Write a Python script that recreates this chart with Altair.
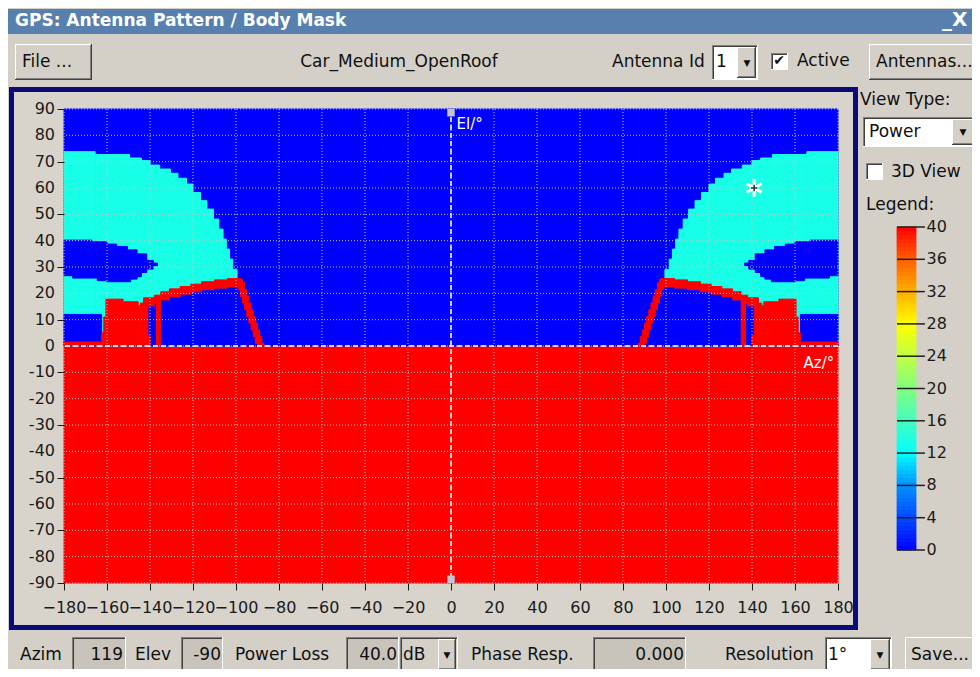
import altair as alt
import pandas as pd

# ---------------- values ----------------
AZ_TICKS = list(range(-180, 181, 20))
EL_TICKS = list(range(-90, 91, 10))
LEGEND_TICKS = [0, 4, 8, 12, 16, 20, 24, 28, 32, 36, 40]
LEGEND_COLORS = ["#0000ff", "#0048ff", "#0090ff", "#00ffff", "#40ffc0", "#80ff80",
                 "#c0ff40", "#ffff00", "#ffb000", "#ff6000", "#ff0000"]

LOSS_BLUE = 0.0     # free sky
LOSS_CYAN = 13.5    # partial shadowing
LOSS_RED = 40.0     # body mask

# left half of the mask (az < 0); the right half is its mirror image
cyan_edges = [-180, -165.5, -149.5, -144, -140, -135.5, -130.5, -127, -123, -120,
              -116.5, -113.5, -110.5, -108, -106, -104.5, -103, -101.5, -99.5]
cyan_top = [73.8, 72.7, 71.4, 70.4, 68.7, 67.2, 65.6, 63.7, 61.5, 58.3,
            55.2, 52.0, 48.2, 44.4, 40.6, 36.8, 33.0, 29.0]

hole_edges = [-180, -176, -167, -164.5, -160, -155.5, -150.5, -149, -146, -144,
              -141.5, -138.5, -136.5]
hole_low = [26.7, 25.8, 25.8, 24.8, 24.4, 24.4, 24.4, 25.4, 26.3, 27.9, 29.2, 30.5]
hole_high = [40.2, 40.2, 39.6, 39.6, 38.7, 37.8, 36.5, 36.5, 35.0, 35.0, 32.5, 31.5]

band_edges = [-180, -162.5]
band_low = [0.0]
band_high = [12.0]

arc_edges = [-143, -138, -135, -131, -126, -121, -116, -110, -104, -98]
arc_low = [15.2, 16.2, 17.5, 18.7, 19.7, 20.6, 21.4, 22.0, 22.4]
arc_high = [18.3, 19.3, 20.6, 21.7, 22.6, 23.5, 24.4, 25.1, 25.6]

block_edges = [-180, -162.5, -161.5, -160.5, -152.5, -145.5, -144.5, -141, -140]
block_top = [1.5, 5.0, 11.0, 17.8, 16.8, 15.3, 16.3, 4.0]

post_edges = [-137, -135]
post_top = [17.0]

slant_edges = [-99, -98, -97, -96, -95, -94, -93, -92, -91, -90, -89, -88, -87]
slant_low = [21.4, 18.9, 16.3, 13.8, 11.2, 8.7, 6.1, 3.6, 1.0, 0.0, 0.0, 0.0]
slant_high = [25.6, 25.4, 24.0, 21.4, 18.9, 16.3, 13.8, 11.2, 8.7, 6.1, 3.6, 1.0]

marker_az = [141]
marker_el = [60]
handle_az = [0, 0]
handle_el = [88.6, -88.6]

# ---------------- build the rect table ----------------
rows = []


def add(edges, lows, highs, loss, mirror=True):
    for i in range(len(edges) - 1):
        rows.append(dict(az0=edges[i], az1=edges[i + 1], el0=lows[i], el1=highs[i], loss=loss))
        if mirror:
            rows.append(dict(az0=-edges[i + 1], az1=-edges[i], el0=lows[i], el1=highs[i], loss=loss))


add([-180, 180], [-90], [0], LOSS_RED, mirror=False)
add([-180, 180], [0], [90], LOSS_BLUE, mirror=False)
add(cyan_edges, [0.0] * len(cyan_top), cyan_top, LOSS_CYAN)
add(hole_edges, hole_low, hole_high, LOSS_BLUE)
add(band_edges, band_low, band_high, LOSS_BLUE)
add(arc_edges, [0.0] * len(arc_low), arc_low, LOSS_BLUE)
add(block_edges, [0.0] * len(block_top), block_top, LOSS_RED)
add(arc_edges, arc_low, arc_high, LOSS_RED)
add(post_edges, [0.0], post_top, LOSS_RED)
add(slant_edges, slant_low, slant_high, LOSS_RED)
heat_df = pd.DataFrame(rows)

FONT = "DejaVu Sans"
W, H = 774, 474
OX, OY = 64, 109  # page position of the plot's top-left corner

x_scale = alt.Scale(domain=[-180, 180], nice=False, zero=False)
y_scale = alt.Scale(domain=[-90, 90], nice=False, zero=False)
color_scale = alt.Scale(domain=LEGEND_TICKS, range=LEGEND_COLORS, interpolate="rgb")
# identity pixel scales for the window chrome (page pixels)
px_x = alt.Scale(domain=[0, 1000], range=[-OX, 1000 - OX], nice=False, zero=False)
px_y = alt.Scale(domain=[0, 1000], range=[-OY, 1000 - OY], nice=False, zero=False)

axis_common = dict(labelFont=FONT, labelFontSize=16, labelColor="#1a1a1a", tickColor="#1a1a1a",
                   tickSize=7, domain=False, grid=False, labelOverlap=False, labelFlush=False,
                   titleFont=FONT, titleFontSize=15, titleFontWeight="normal", titleColor="white",
                   titleAngle=0, titleAlign="left", titleBaseline="middle", zindex=1)

heat = alt.Chart(heat_df).mark_rect(strokeWidth=1).encode(
    x=alt.X("az0:Q", scale=x_scale,
            axis=alt.Axis(values=AZ_TICKS, title="Az/°", titleX=739, titleY=253 - H,
                          labelPadding=9, **axis_common)),
    x2="az1:Q",
    y=alt.Y("el0:Q", scale=y_scale,
            axis=alt.Axis(values=EL_TICKS, title="El/°", titleX=392, titleY=14,
                          labels=False, **axis_common)),
    y2="el1:Q",
    color=alt.Color("loss:Q", scale=color_scale, legend=None),
    stroke=alt.Stroke("loss:Q", scale=color_scale, legend=None),
)

# elevation tick labels, drawn as text at the left edge of the plot
el_lab_df = pd.DataFrame({"el": EL_TICKS, "az": [-180] * len(EL_TICKS),
                          "lab": [str(v) for v in EL_TICKS]})
el_labels = alt.Chart(el_lab_df).mark_text(
    align="right", baseline="middle", dx=-9, font=FONT, fontSize=16, color="#1a1a1a").encode(
    x=alt.X("az:Q", scale=x_scale), y=alt.Y("el:Q", scale=y_scale), text="lab:N")

grid_v = alt.Chart(pd.DataFrame({"az": AZ_TICKS})).mark_rule(
    color="#c4c4c8", strokeWidth=1, strokeDash=[1, 2]).encode(x=alt.X("az:Q", scale=x_scale))
grid_h = alt.Chart(pd.DataFrame({"el": EL_TICKS})).mark_rule(
    color="#c4c4c8", strokeWidth=1, strokeDash=[1, 2]).encode(y=alt.Y("el:Q", scale=y_scale))
zero_h = alt.Chart(pd.DataFrame({"el": [0]})).mark_rule(
    color="white", strokeWidth=1.5, strokeDash=[5, 3]).encode(y=alt.Y("el:Q", scale=y_scale))
zero_v = alt.Chart(pd.DataFrame({"az": [0]})).mark_rule(
    color="white", strokeWidth=1.5, strokeDash=[5, 3]).encode(x=alt.X("az:Q", scale=x_scale))
handles = alt.Chart(pd.DataFrame({"az": handle_az, "el": handle_el})).mark_square(
    size=56, color="#c4c4d0", opacity=1).encode(
    x=alt.X("az:Q", scale=x_scale), y=alt.Y("el:Q", scale=y_scale))
marker_df = pd.DataFrame({"az": marker_az, "el": marker_el})
star = alt.Chart(marker_df).mark_point(
    shape="M0,-1L0,1M-0.87,-0.5L0.87,0.5M-0.87,0.5L0.87,-0.5", size=300, filled=False,
    stroke="white", strokeWidth=3, opacity=1).encode(
    x=alt.X("az:Q", scale=x_scale), y=alt.Y("el:Q", scale=y_scale))
star_c = alt.Chart(marker_df).mark_point(
    shape="M-1,0L1,0M0,-1L0,1", size=40, filled=False,
    stroke="#183838", strokeWidth=1.5, opacity=1).encode(
    x=alt.X("az:Q", scale=x_scale), y=alt.Y("el:Q", scale=y_scale))

main = alt.layer(heat, grid_v, grid_h, zero_h, zero_v, handles, star, star_c, el_labels)

# ---------------- colour bar ----------------
cb_x = alt.Scale(domain=[0, 1], range=[897 - OX, 916 - OX], nice=False, zero=False)
cb_y = alt.Scale(domain=[0, 40], range=[550 - OY, 227 - OY], nice=False, zero=False)
levels = [i * 0.5 for i in range(80)]
cb_df = pd.DataFrame({"v0": levels, "v1": [v + 0.5 for v in levels],
                      "vm": [v + 0.25 for v in levels], "c0": 0.0, "c1": 1.0})
cbar = alt.Chart(cb_df).mark_rect(strokeWidth=0.8).encode(
    x=alt.X("c0:Q", scale=cb_x, axis=None), x2="c1:Q",
    y=alt.Y("v0:Q", scale=cb_y, axis=None), y2="v1:Q",
    color=alt.Color("vm:Q", scale=color_scale, legend=None),
    stroke=alt.Stroke("vm:Q", scale=color_scale, legend=None))
tick_df = pd.DataFrame({"v": LEGEND_TICKS, "lab": [str(t) for t in LEGEND_TICKS],
                        "t0": 0.0, "t1": 1.47, "tl": 1.55})
cticks = alt.Chart(tick_df).mark_rule(color="#202020", strokeWidth=1.5).encode(
    x=alt.X("t0:Q", scale=cb_x, axis=None), x2="t1:Q",
    y=alt.Y("v:Q", scale=cb_y, axis=None))
clabels = alt.Chart(tick_df).mark_text(align="left", baseline="middle", font=FONT,
                                        fontSize=16, color="#1a1a1a").encode(
    x=alt.X("tl:Q", scale=cb_x, axis=None),
    y=alt.Y("v:Q", scale=cb_y, axis=None), text="lab:N")
colorbar = alt.layer(cbar, cticks, clabels)

# ---------------- window chrome (page pixel boxes) ----------------
GRAY = "#d4d0c8"
boxes = []


def box(x0, y0, x1, y1, fill, stroke="transparent", sw=0):
    boxes.append(dict(x0=x0, y0=y0, x1=x1, y1=y1, fill=fill, stroke=stroke, sw=sw))


def raised(x0, y0, x1, y1):
    box(x0, y0, x1, y1, "#404040")
    box(x0, y0, x1 - 1, y1 - 1, "#ffffff")
    box(x0 + 1, y0 + 1, x1 - 1, y1 - 1, "#808080")
    box(x0 + 1, y0 + 1, x1 - 2, y1 - 2, GRAY)


def sunken(x0, y0, x1, y1, face):
    box(x0, y0, x1, y1, "#ffffff")
    box(x0, y0, x1 - 1, y1 - 1, "#808080")
    box(x0 + 1, y0 + 1, x1 - 1, y1 - 1, "#404040")
    box(x0 + 2, y0 + 2, x1 - 1, y1 - 1, face)


box(8, 9, 980, 34, "#5880ae")
box(11.5, 89.5, 855.5, 627.5, "#d8d4cc", "#0a0a78", 5)
raised(15, 44, 92, 80)
sunken(712, 45, 758, 80, "#ffffff")
raised(737, 47, 756, 78)
sunken(771, 53, 788, 70, "#ffffff")
raised(869, 44, 979, 80)
sunken(863, 117, 977, 147, "#ffffff")
raised(952, 119, 975, 145)
sunken(866, 163, 883, 180, "#ffffff")
sunken(72, 637, 126, 672, "#c8c4bc")
sunken(181, 637, 223, 672, "#c8c4bc")
sunken(346, 637, 399, 672, "#c8c4bc")
sunken(400, 637, 458, 672, GRAY)
raised(438, 639, 456, 670)
sunken(593, 637, 686, 672, "#c8c4bc")
sunken(825, 637, 892, 672, "#ffffff")
raised(870, 639, 890, 670)
raised(905, 637, 979, 672)

chrome = alt.Chart(pd.DataFrame(boxes)).mark_rect().encode(
    x=alt.X("x0:Q", scale=px_x, axis=None), x2="x1:Q",
    y=alt.Y("y0:Q", scale=px_y, axis=None), y2="y1:Q",
    fill=alt.Fill("fill:N", scale=None),
    stroke=alt.Stroke("stroke:N", scale=None),
    strokeWidth=alt.StrokeWidth("sw:Q", scale=None))


def texts(items):
    return pd.DataFrame([dict(x=x, y=y, t=t, s=s) for x, y, t, s in items])


left_items = [
    (22, 62, "File ...", 17), (612, 62, "Antenna Id", 17), (716, 62, "1", 17),
    (797, 61, "Active", 17), (876, 62, "Antennas...", 17),
    (860, 100, "View Type:", 17), (869, 132, "Power", 17), (891, 172, "3D View", 17),
    (866, 205, "Legend:", 17),
    (20, 655, "Azim", 17), (135, 655, "Elev", 17), (235, 655, "Power Loss", 17),
    (403, 655, "dB", 17), (471, 655, "Phase Resp.", 17), (725, 655, "Resolution", 17),
    (828, 655, "1°", 17), (911, 655, "Save...", 17),
]
right_items = [(123, 655, "119", 17), (221, 655, "-90", 17), (397, 655, "40.0", 17),
               (684, 655, "0.000", 17)]
center_items = [(399, 62, "Car_Medium_OpenRoof", 17), (747, 63, "▼", 9), (779, 61, "✔", 14),
                (963, 132, "▼", 9), (447, 655, "▼", 9), (880, 655, "▼", 9)]
title_items = [(15, 21, "GPS: Antenna Pattern / Body Mask", 17), (942, 20, "_X", 20)]


def text_layer(items, align, color="#101010", weight="normal"):
    return alt.Chart(texts(items)).mark_text(
        align=align, baseline="middle", font=FONT, color=color, fontWeight=weight).encode(
        x=alt.X("x:Q", scale=px_x, axis=None), y=alt.Y("y:Q", scale=px_y, axis=None),
        text="t:N", size=alt.Size("s:Q", scale=None))


labels = alt.layer(text_layer(left_items, "left"), text_layer(right_items, "right"),
                   text_layer(center_items, "center"),
                   text_layer(title_items, "left", color="white", weight="bold"))

chart = alt.layer(chrome, main, colorbar, labels).resolve_scale(
    x="independent", y="independent").properties(
    width=W, height=H,
    autosize=alt.AutoSizeParams(type="none"),
    padding={"left": OX - 8, "top": OY - 8, "right": 972 - OX - W, "bottom": 669 - OY - H},
    background=GRAY,
).configure_view(stroke=None)

chart.save("out.html", embed_options={"renderer": "svg", "actions": False})
